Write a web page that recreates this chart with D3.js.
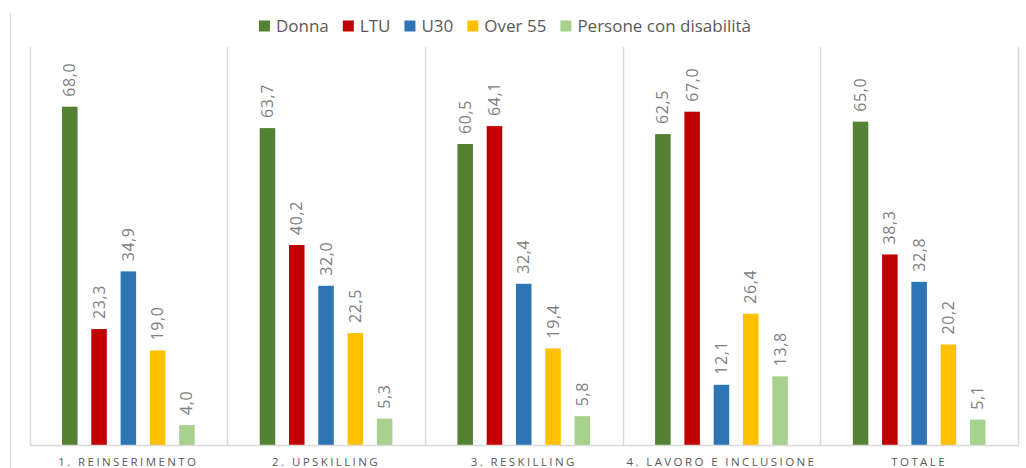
<!DOCTYPE html>
<html>
<head>
<meta charset="utf-8">
<script src="https://cdn.jsdelivr.net/npm/d3@7"></script>
<style>
  body { margin: 0; background: #fff; }
  svg text { font-family: "Open Sans", "Noto Sans", sans-serif; }
</style>
</head>
<body>
<div id="chart"></div>
<script>
// Categories and series
const categories = ["1. REINSERIMENTO", "2. UPSKILLING", "3. RESKILLING", "4. LAVORO E INCLUSIONE", "TOTALE"];
const seriesNames = ["Donna", "LTU", "U30", "Over 55", "Persone con disabilità"];
const donna = [68.0, 63.7, 60.5, 62.5, 65.0];
const ltu = [23.3, 40.2, 64.1, 67.0, 38.3];
const u30 = [34.9, 32.0, 32.4, 12.1, 32.8];
const over55 = [19.0, 22.5, 19.4, 26.4, 20.2];
const disabilita = [4.0, 5.3, 5.8, 13.8, 5.1];
const colors = ["#548235", "#c00000", "#2e75b6", "#ffc000", "#a9d18e"];

const seriesValues = [donna, ltu, u30, over55, disabilita];

const width = 1026, height = 468;
const plot = { left: 29.5, right: 1018, top: 47, bottom: 445 };

const svg = d3.select("#chart")
    .append("svg")
    .attr("width", width)
    .attr("height", height);

// outer chart border (left side only visible)
svg.append("line")
    .attr("x1", 10.5).attr("x2", 10.5)
    .attr("y1", 13).attr("y2", height)
    .attr("stroke", "#d9d9d9").attr("stroke-width", 1);

const x0 = d3.scaleBand()
    .domain(categories)
    .range([plot.left, plot.right])
    .padding(0);

const x1 = d3.scaleBand()
    .domain(seriesNames)
    .range([0, x0.bandwidth()])
    .paddingInner(0.47)
    .paddingOuter(1.11);

const y = d3.scaleLinear()
    .domain([0, 80])
    .range([plot.bottom, plot.top]);

// Group separators and plot area borders
const sepXs = categories.map(c => x0(c)).concat([plot.right]);
svg.selectAll("line.sep")
    .data(sepXs)
    .enter()
    .append("line")
    .attr("class", "sep")
    .attr("x1", d => Math.round(d) + 0.5)
    .attr("x2", d => Math.round(d) + 0.5)
    .attr("y1", plot.top)
    .attr("y2", plot.bottom)
    .attr("stroke", "#d9d9d9")
    .attr("stroke-width", 1.5);

// Bars
const groups = svg.selectAll("g.group")
    .data(categories)
    .enter()
    .append("g")
    .attr("class", "group")
    .attr("transform", d => `translate(${x0(d)},0)`);

const fmt = v => d3.format(".1f")(v).replace(".", ",");

groups.each(function(cat, ci) {
    const g = d3.select(this);
    const rows = seriesNames.map((s, si) => ({ s, si, v: seriesValues[si][ci] }));

    g.selectAll("rect")
        .data(rows)
        .enter()
        .append("rect")
        .attr("x", d => x1(d.s))
        .attr("y", d => y(d.v))
        .attr("width", x1.bandwidth())
        .attr("height", d => y(0) - y(d.v))
        .attr("fill", d => colors[d.si]);

    g.selectAll("text")
        .data(rows)
        .enter()
        .append("text")
        .attr("transform", d => `translate(${x1(d.s) + x1.bandwidth() / 2 + 5.5},${y(d.v) - 10}) rotate(-90)`)
        .attr("text-anchor", "start")
        .attr("font-size", 16)
        .attr("letter-spacing", "0.6px")
        .attr("fill", "#808080")
        .text(d => fmt(d.v));
});

// Baseline
svg.append("line")
    .attr("x1", plot.left).attr("x2", plot.right + 1)
    .attr("y1", plot.bottom + 0.5).attr("y2", plot.bottom + 0.5)
    .attr("stroke", "#d9d9d9").attr("stroke-width", 1.5);

// Category labels
svg.selectAll("text.cat")
    .data(categories)
    .enter()
    .append("text")
    .attr("class", "cat")
    .attr("x", d => x0(d) + x0.bandwidth() / 2)
    .attr("y", 466)
    .attr("text-anchor", "middle")
    .attr("font-size", 11.5)
    .attr("letter-spacing", "2.4px")
    .attr("fill", "#595959")
    .text(d => d);

// Legend
const legend = svg.append("g");
let lx = 0;
seriesNames.forEach((s, i) => {
    const item = legend.append("g").attr("transform", `translate(${lx},0)`);
    item.append("rect")
        .attr("x", 0).attr("y", -5.5)
        .attr("width", 11).attr("height", 11)
        .attr("fill", colors[i]);
    const t = item.append("text")
        .attr("x", 17).attr("y", 6)
        .attr("font-size", 17)
        .attr("fill", "#595959")
        .text(s);
    lx += 17 + t.node().getComputedTextLength() + 14;
});
const legendW = lx - 14;
legend.attr("transform", `translate(${505 - legendW / 2},26)`);
</script>
</body>
</html>
